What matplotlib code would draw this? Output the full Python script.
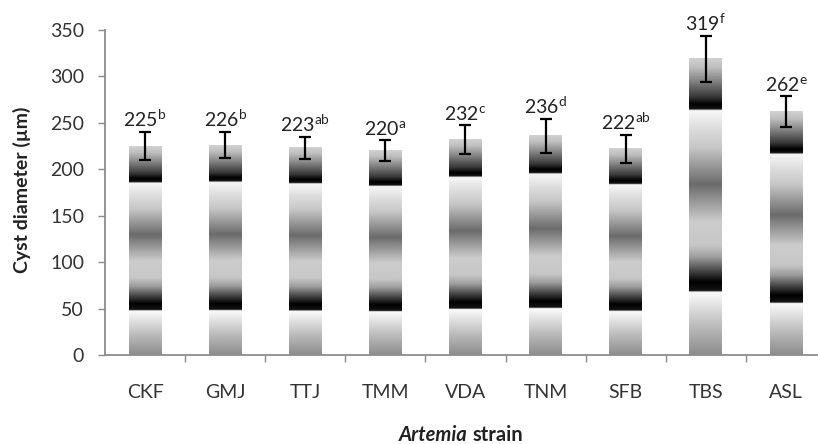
import numpy as np
import matplotlib.pyplot as plt

plt.rcParams['font.family'] = ['Lato', 'DejaVu Sans']
plt.rcParams['mathtext.fontset'] = 'custom'
plt.rcParams['mathtext.rm'] = 'Lato'
plt.rcParams['mathtext.it'] = 'Lato:italic'
plt.rcParams['mathtext.bf'] = 'Lato:bold'

# Mean cyst diameter per strain, standard deviation and significance letters
strains = ['CKF', 'GMJ', 'TTJ', 'TMM', 'VDA', 'TNM', 'SFB', 'TBS', 'ASL']
means = [225, 226, 223, 220, 232, 236, 222, 319, 262]
sds = [15, 14, 12, 11, 16, 18, 15, 25, 17]
letters = ['b', 'b', 'ab', 'a', 'c', 'd', 'ab', 'f', 'e']

# grey "chrome" fill, position along bar height -> grey level
stops_t = [0.00, 0.10, 0.205, 0.212, 0.216, 0.245, 0.28, 0.33, 0.37, 0.45,
           0.575, 0.70, 0.76, 0.824, 0.829, 0.845, 0.87, 0.93, 0.97, 1.00]
stops_g = [0.55, 0.74, 0.97, 0.97, 0.08, 0.0, 0.25, 0.62, 0.78, 0.80,
           0.42, 0.78, 0.86, 0.97, 0.08, 0.0, 0.22, 0.55, 0.75, 0.82]
tt = np.linspace(0, 1, 800)
grad = np.interp(tt, stops_t, stops_g).reshape(-1, 1)

fig = plt.figure(figsize=(8.18, 4.44), dpi=100)
ax = fig.add_axes([105 / 818, 89 / 444, 721 / 818, 325 / 444])

x = np.arange(len(strains))
bars = ax.bar(x, means, width=0.41, color='none', edgecolor='none')
for p in bars.patches:
    x0, w, h = p.get_x(), p.get_width(), p.get_height()
    ax.imshow(grad, cmap='gray', vmin=0, vmax=1, origin='lower', aspect='auto',
              extent=(x0, x0 + w, 0, h), interpolation='bilinear', zorder=2)

ax.errorbar(x, means, yerr=sds, fmt='none', ecolor='black', elinewidth=1.6,
            capsize=4.3, capthick=1.6, zorder=3)

for xi, m, s, l in zip(x, means, sds, letters):
    ax.annotate(f"{m}$^{{\\mathrm{{{l}}}}}$", (xi, m + s), xytext=(0, 1.5),
                textcoords='offset points', ha='center', va='bottom',
                fontsize=14, color='#222222')

ax.set_xlim(-0.5, len(strains) - 0.5)
ax.set_ylim(0, 350)
ax.set_yticks(range(0, 351, 50))
ax.set_xticks(x)
ax.set_xticklabels(strains)
ax.set_xticks(np.arange(0.5, len(strains) - 0.5, 1), minor=True)

for side in ['top', 'right']:
    ax.spines[side].set_visible(False)
for side in ['left', 'bottom']:
    ax.spines[side].set_color('#8c8c8c')
    ax.spines[side].set_linewidth(1.3)

ax.tick_params(axis='y', length=5, width=1, color='#8c8c8c', pad=10,
               labelsize=14, labelcolor='#333333')
ax.tick_params(axis='x', which='major', length=0, pad=21,
               labelsize=14, labelcolor='#333333')
ax.tick_params(axis='x', which='minor', length=5, width=1, color='#8c8c8c')

fig.text(22 / 818, 1 - 190 / 444, 'Cyst diameter (µm)', rotation=90,
         fontsize=14, fontweight='bold', color='#222222',
         ha='center', va='center')

fig.text(468 / 818, 3 / 444, 'Artemia', fontsize=14.5, fontweight='bold',
         fontstyle='italic', ha='right', va='baseline', color='#222222')
fig.text(473 / 818, 3 / 444, 'strain', fontsize=14.5, fontweight='bold',
         ha='left', va='baseline', color='#222222')

fig.savefig('out.png', dpi=100)
